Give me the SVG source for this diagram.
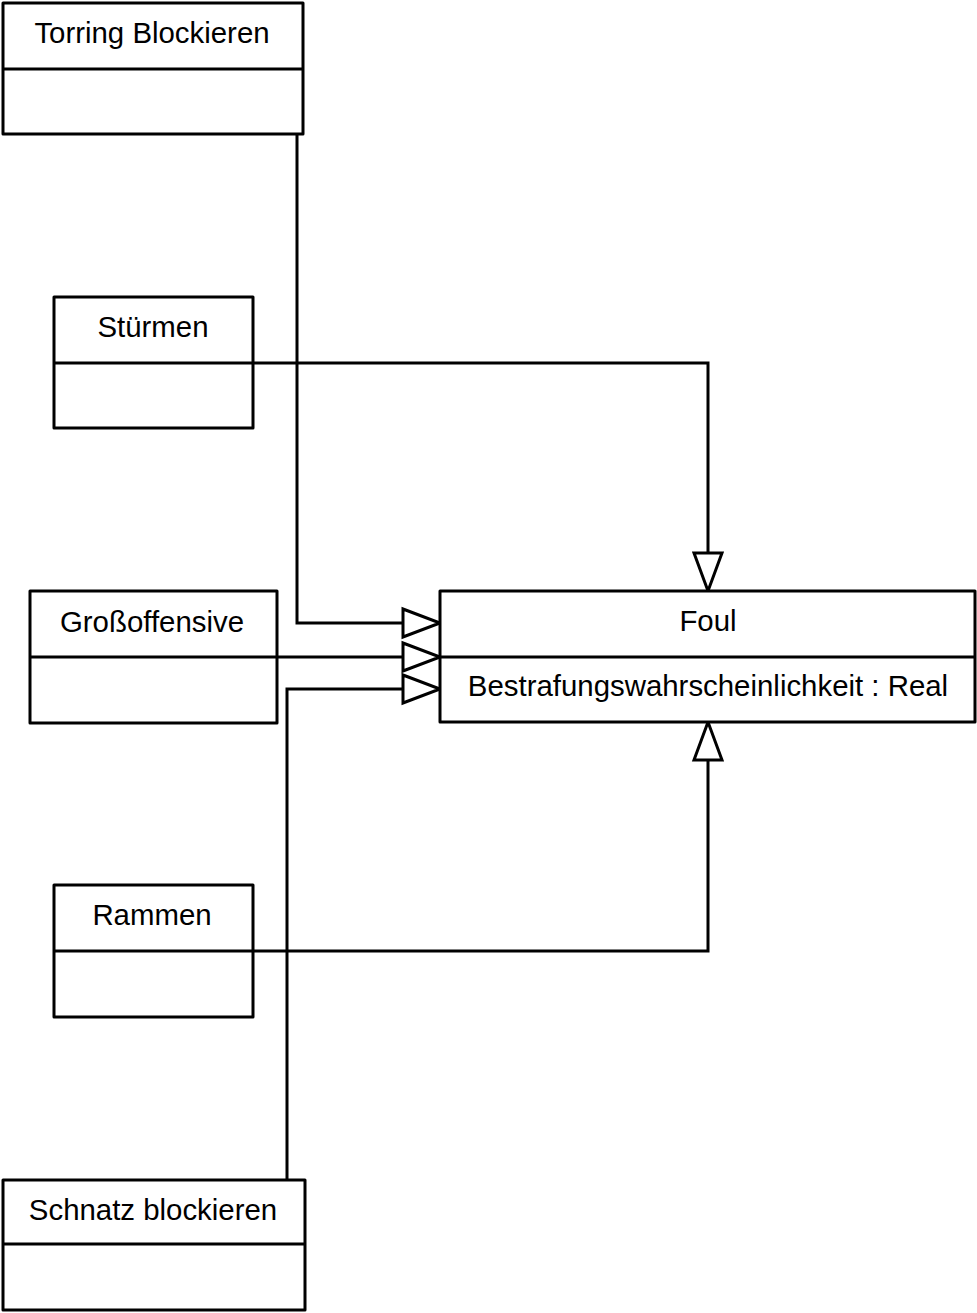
<svg xmlns="http://www.w3.org/2000/svg" width="977" height="1313" viewBox="0 0 977 1313">
<style>
.box{fill:#fff;stroke:#000;stroke-width:3;stroke-linejoin:round}
.div{stroke:#000;stroke-width:3}
.lbl{font-family:"Liberation Sans",Arial,sans-serif;font-size:29.4px;fill:#000;text-anchor:middle}
.conn{fill:none;stroke:#000;stroke-width:3;stroke-linejoin:miter}
.head{fill:#fff;stroke:#000;stroke-width:3;stroke-linejoin:miter}
</style>
<rect width="977" height="1313" fill="#fff"/>
<g id="connectors">
<path class="conn" d="M297,134 V623 H403"/>
<polygon class="head" points="403,609 440,623 403,637"/>
<path class="conn" d="M253,363 H708 V553"/>
<polygon class="head" points="694,553 708,591 722,553"/>
<path class="conn" d="M277,657 H403"/>
<polygon class="head" points="403,643 440,657 403,671"/>
<path class="conn" d="M287,1180 V689 H403"/>
<polygon class="head" points="403,675 440,689 403,703"/>
<path class="conn" d="M253,951 H708 V760"/>
<polygon class="head" points="694,760 708,722 722,760"/>
</g>
<g id="torring">
<rect class="box" x="3" y="3" width="300" height="131"/>
<line class="div" x1="3" y1="69" x2="303" y2="69"/>
<text class="lbl" x="152" y="43">Torring Blockieren</text>
</g>
<g id="stuermen">
<rect class="box" x="54" y="297" width="199" height="131"/>
<line class="div" x1="54" y1="363" x2="253" y2="363"/>
<text class="lbl" x="153" y="337">Stürmen</text>
</g>
<g id="grossoffensive">
<rect class="box" x="30" y="591" width="247" height="132"/>
<line class="div" x1="30" y1="657" x2="277" y2="657"/>
<text class="lbl" x="152" y="632">Großoffensive</text>
</g>
<g id="foul">
<rect class="box" x="440" y="591" width="535" height="131"/>
<line class="div" x1="440" y1="657" x2="975" y2="657"/>
<text class="lbl" x="708" y="631">Foul</text>
<text class="lbl" x="708" y="696">Bestrafungswahrscheinlichkeit : Real</text>
</g>
<g id="rammen">
<rect class="box" x="54" y="885" width="199" height="132"/>
<line class="div" x1="54" y1="951" x2="253" y2="951"/>
<text class="lbl" x="152" y="925">Rammen</text>
</g>
<g id="schnatz">
<rect class="box" x="3" y="1180" width="302" height="130"/>
<line class="div" x1="3" y1="1244" x2="305" y2="1244"/>
<text class="lbl" x="153" y="1220">Schnatz blockieren</text>
</g>
</svg>
